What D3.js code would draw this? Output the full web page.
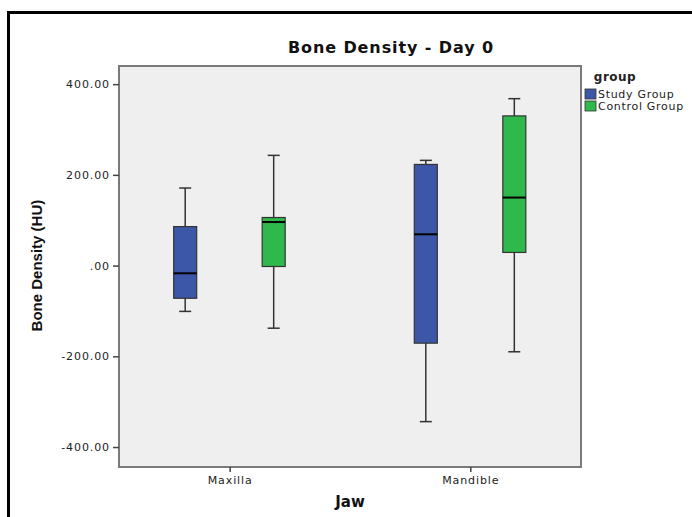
<!DOCTYPE html>
<html>
<head>
<meta charset="utf-8">
<script src="https://cdn.jsdelivr.net/npm/d3@7"></script>
<style>
  body { margin: 0; background: #fff; }
  text { font-family: "DejaVu Sans", Verdana, sans-serif; }
</style>
</head>
<body>
<div id="chart"></div>
<script>
// Data (box plot five-number summaries)
var jaws = ["Maxilla", "Mandible"];
var groups = ["Study Group", "Control Group"];
var groupColors = ["#3c57a8", "#2fb84b"];
var yTicks = [-400, -200, 0, 200, 400];

// whisker low, q1, median, q3, whisker high per jaw, per group
var studyStats = [
    [-101, -72, -17, 86, 171],
    [-344, -171, 69, 223, 232]
];
var controlStats = [
    [-138, -2, 96, 106, 243],
    [-190, 29, 150, 330, 368]
];

var svgWidth = 692;
var svgHeight = 517;

var margin = { top: 66, right: 111, bottom: 50, left: 119 };
var width = svgWidth - margin.left - margin.right;
var height = svgHeight - margin.top - margin.bottom;

var svg = d3.select("#chart")
    .append("svg")
    .attr("width", svgWidth)
    .attr("height", svgHeight);

// outer black frame (runs off right and bottom edge)
svg.append("rect")
    .attr("x", 8.5)
    .attr("y", 12.5)
    .attr("width", 700)
    .attr("height", 520)
    .attr("fill", "none")
    .attr("stroke", "#000")
    .attr("stroke-width", 3);

// title
svg.append("text")
    .attr("x", 391)
    .attr("y", 53)
    .attr("text-anchor", "middle")
    .attr("font-size", "16px")
    .attr("font-weight", "bold")
    .attr("letter-spacing", "0.9px")
    .attr("fill", "#111")
    .text("Bone Density - Day 0");

var chartGroup = svg.append("g")
    .attr("transform", `translate(${margin.left}, ${margin.top})`);

var xScale = d3.scalePoint()
    .domain(jaws)
    .range([0, width])
    .padding(0.46);

var yScale = d3.scaleLinear()
    .domain([-444, 440])
    .range([height, 0]);

// plot background
chartGroup.append("rect")
    .attr("x", 0)
    .attr("y", 0)
    .attr("width", width)
    .attr("height", height)
    .attr("fill", "#efefef")
    .attr("stroke", "#7a7a7a")
    .attr("stroke-width", 2);

// axes
var leftAxis = d3.axisLeft(yScale)
    .tickValues(yTicks)
    .tickSize(6)
    .tickPadding(3)
    .tickFormat(d => d === 0 ? ".00" : d3.format(".2f")(d).replace("\u2212", "-"));

var bottomAxis = d3.axisBottom(xScale)
    .tickSize(5)
    .tickPadding(4);

var yAxis = chartGroup.append("g").call(leftAxis);
var xAxis = chartGroup.append("g")
    .attr("transform", `translate(0, ${height})`)
    .call(bottomAxis);

[yAxis, xAxis].forEach(function(ax) {
    ax.select(".domain").remove();
    ax.selectAll("line").attr("stroke", "#444").attr("stroke-width", 1.5);
    ax.selectAll("text")
        .attr("font-size", "11px")
        .attr("letter-spacing", "0.9px")
        .attr("fill", "#222")
        .style("font-family", "\"DejaVu Sans\", Verdana, sans-serif");
});

// axis titles
svg.append("text")
    .attr("transform", `translate(42, ${margin.top + yScale(0)}) rotate(-90)`)
    .attr("text-anchor", "middle")
    .attr("font-size", "15px")
    .attr("font-weight", "bold")
    .style("font-family", "\"Liberation Sans Narrow\", \"Liberation Sans\", sans-serif")
    .attr("fill", "#111")
    .text("Bone Density (HU)");

svg.append("text")
    .attr("x", 350)
    .attr("y", 507)
    .attr("text-anchor", "middle")
    .attr("font-size", "15px")
    .attr("font-weight", "bold")
    .attr("fill", "#111")
    .text("Jaw");

// boxes
var boxWidth = 23;
var capWidth = 12;
var offsets = [-44.5, 44];

var boxData = [];
jaws.forEach(function(jaw, i) {
    boxData.push({ jaw: jaw, g: 0, s: studyStats[i] });
    boxData.push({ jaw: jaw, g: 1, s: controlStats[i] });
});

var boxes = chartGroup.selectAll(".box")
    .data(boxData)
    .enter()
    .append("g")
    .attr("class", "box")
    .attr("transform", d => `translate(${xScale(d.jaw) + offsets[d.g]}, 0)`);

// whisker line
boxes.append("line")
    .attr("x1", 0).attr("x2", 0)
    .attr("y1", d => yScale(d.s[0]))
    .attr("y2", d => yScale(d.s[4]))
    .attr("stroke", "#333")
    .attr("stroke-width", 1.5);

// caps
boxes.selectAll(".cap")
    .data(d => [d.s[0], d.s[4]])
    .enter()
    .append("line")
    .attr("x1", -capWidth / 2).attr("x2", capWidth / 2)
    .attr("y1", v => yScale(v))
    .attr("y2", v => yScale(v))
    .attr("stroke", "#333")
    .attr("stroke-width", 1.5);

// box body
boxes.append("rect")
    .attr("x", -boxWidth / 2)
    .attr("width", boxWidth)
    .attr("y", d => yScale(d.s[3]))
    .attr("height", d => yScale(d.s[1]) - yScale(d.s[3]))
    .attr("fill", d => groupColors[d.g])
    .attr("stroke", "#333")
    .attr("stroke-width", 1.2);

// median
boxes.append("line")
    .attr("x1", -boxWidth / 2).attr("x2", boxWidth / 2)
    .attr("y1", d => yScale(d.s[2]))
    .attr("y2", d => yScale(d.s[2]))
    .attr("stroke", "#000")
    .attr("stroke-width", 2);

// legend
var legend = svg.append("g")
    .attr("transform", "translate(585, 0)");

legend.append("text")
    .attr("x", 30)
    .attr("y", 81)
    .attr("text-anchor", "middle")
    .attr("font-size", "12px")
    .attr("font-weight", "bold")
    .attr("letter-spacing", "0.5px")
    .attr("fill", "#222")
    .text("group");

var items = legend.selectAll(".item")
    .data(groups)
    .enter()
    .append("g")
    .attr("class", "item")
    .attr("transform", (d, i) => `translate(0, ${89 + i * 12})`);

items.append("rect")
    .attr("width", 11)
    .attr("height", 10)
    .attr("fill", (d, i) => groupColors[i])
    .attr("stroke", "#333")
    .attr("stroke-width", 0.8);

items.append("text")
    .attr("x", 13)
    .attr("y", 9)
    .attr("font-size", "11px")
    .attr("letter-spacing", "0.7px")
    .attr("fill", "#222")
    .text(d => d);
</script>
</body>
</html>
